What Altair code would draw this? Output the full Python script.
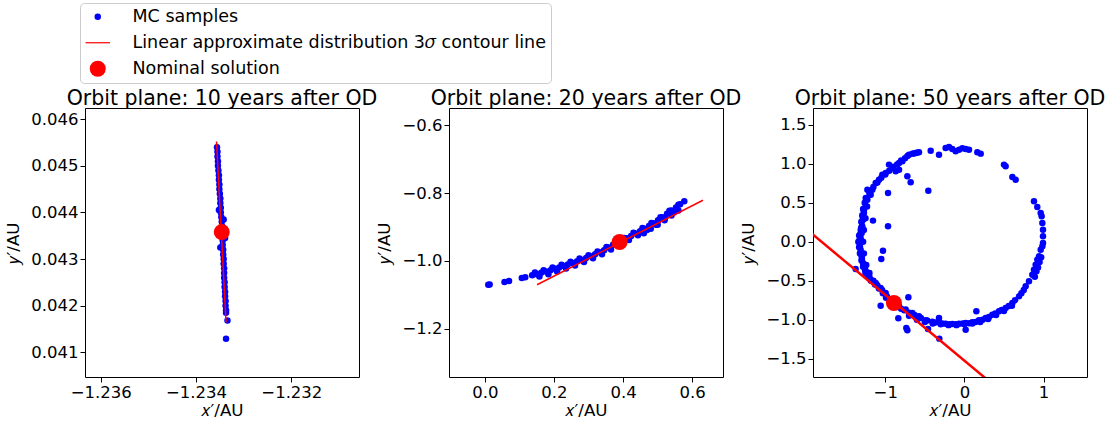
import altair as alt
import pandas as pd

FONT = "DejaVu Sans"
BLUE = "#0000ff"
RED = "#ff0000"

series_names = ["MC samples", "Linear approximate distribution 3𝜎 contour line", "Nominal solution"]
series_colors = [BLUE, RED, RED]
series_shapes = ["circle", "M-2,-0.1H2V0.1H-2Z", "circle"]
series_sizes = [42, 256, 320]

panel_titles = ["Orbit plane: 10 years after OD", "Orbit plane: 20 years after OD", "Orbit plane: 50 years after OD"]

# ---------------- Panel 1 (10 years) ----------------
p1_mc_x = [-1.23356, -1.23355, -1.23355, -1.23354, -1.23354, -1.23353, -1.23352, -1.23352, -1.23351, -1.23351,
           -1.23350, -1.23349, -1.23349, -1.23348, -1.23348, -1.23347, -1.23346, -1.23345, -1.23346, -1.23345,
           -1.23344, -1.23344, -1.23343, -1.23343, -1.23342, -1.23342, -1.23341, -1.23341, -1.23341, -1.23340,
           -1.23340, -1.23339, -1.23339, -1.23338, -1.23338, -1.23337, -1.23337, -1.23334, -1.23337,
           -1.23342, -1.23340, -1.23339, -1.23352, -1.23349]
p1_mc_y = [0.04540, 0.04530, 0.04520, 0.04510, 0.04500, 0.04490, 0.04480, 0.04470, 0.04460, 0.04450,
           0.04440, 0.04430, 0.04420, 0.04410, 0.04400, 0.04390, 0.04380, 0.04370, 0.04360, 0.04350,
           0.04340, 0.04330, 0.04320, 0.04310, 0.04300, 0.04290, 0.04280, 0.04270, 0.04260, 0.04250,
           0.04240, 0.04230, 0.04220, 0.04210, 0.04200, 0.04190, 0.04185, 0.04168, 0.04129,
           0.04385, 0.04365, 0.04345, 0.04405, 0.04325]
p1_line_x = [-1.23357, -1.23337]
p1_line_y = [0.045522, 0.041644]
p1_nom = (-1.23346, 0.043579)
p1_xdom = [-1.23633, -1.23058]
p1_ydom = [0.04047, 0.04624]
p1_xticks = [-1.236, -1.234, -1.232]
p1_yticks = [0.041, 0.042, 0.043, 0.044, 0.045, 0.046]

# ---------------- Panel 2 (20 years) ----------------
p2_mc_x = [0.010, 0.014, 0.057, 0.070, 0.107, 0.117,
           0.137, 0.150, 0.163, 0.176, 0.190, 0.203, 0.215, 0.228, 0.240, 0.254, 0.267, 0.280, 0.293, 0.306,
           0.319, 0.332, 0.345, 0.358, 0.371, 0.384, 0.397, 0.410, 0.423, 0.436, 0.449, 0.462, 0.475, 0.488,
           0.501, 0.514, 0.527, 0.540, 0.553, 0.565, 0.577,
           0.145, 0.170, 0.196, 0.222, 0.248, 0.274, 0.300, 0.326, 0.352, 0.378, 0.404, 0.430, 0.456, 0.482,
           0.508, 0.534, 0.560,
           0.158, 0.184, 0.209, 0.235, 0.261, 0.287, 0.313, 0.339, 0.365, 0.391, 0.417, 0.443, 0.469, 0.495,
           0.521, 0.547,
           0.460, 0.480, 0.500, 0.520, 0.540, 0.560]
p2_mc_y = [-1.070, -1.069, -1.062, -1.059, -1.050, -1.048,
           -1.042, -1.039, -1.035, -1.031, -1.027, -1.023, -1.019, -1.015, -1.010, -1.006, -1.001, -0.997, -0.991, -0.986,
           -0.980, -0.974, -0.968, -0.960, -0.952, -0.946, -0.940, -0.933, -0.926, -0.919, -0.912, -0.905, -0.897, -0.889,
           -0.880, -0.871, -0.861, -0.851, -0.842, -0.833, -0.824,
           -1.034, -1.027, -1.019, -1.011, -1.002, -0.993, -0.983, -0.972, -0.959, -0.945, -0.932, -0.917, -0.903, -0.888,
           -0.871, -0.852, -0.834,
           -1.046, -1.039, -1.031, -1.022, -1.013, -1.003, -0.992, -0.980, -0.966, -0.952, -0.938, -0.924, -0.909, -0.893,
           -0.875, -0.857,
           -0.918, -0.905, -0.893, -0.880, -0.866, -0.851]
p2_line_x = [0.151, 0.631]
p2_line_y = [-1.070, -0.821]
p2_nom = (0.390, -0.944)
p2_xdom = [-0.1036, 0.689]
p2_ydom = [-1.342, -0.549]
p2_xticks = [0.0, 0.2, 0.4, 0.6]
p2_yticks = [-1.2, -1.0, -0.8, -0.6]

# ---------------- Panel 3 (50 years) ----------------
p3_mc_x = [-0.700, -0.658, -0.616, -0.574, -0.784, -0.826, -0.953, -0.911, -0.868, -0.826, -0.995, -1.037, -1.079,
           -1.121, -1.163, -1.184, -1.226, -1.247,
           -1.226, -1.247, -1.269, -1.281, -1.290, -1.298, -1.311, -1.323, -1.311, -1.298, -1.281, -1.256, -1.226,
           -1.184, -1.121, -1.058, -0.995, -0.953,
           -0.826, -0.742, -0.658, -0.574, -0.489, -0.405, -0.321, -0.237, -0.153, -0.068, 0.016, 0.100, 0.184,
           0.269, 0.353, 0.437, 0.521, 0.606, 0.690, 0.774, 0.816, 0.858, 0.879, 0.900, 0.921, 0.943, 0.964, 0.985, 0.993,
           0.993, 0.993, 0.985, 0.976, 0.964, 0.921, 0.879,
           0.648, 0.606, 0.521, 0.500, 0.206, 0.163,
           0.058, 0.016, -0.026, -0.068, -0.110, -0.153, -0.195, -0.237, -0.321, -0.426,
           -0.721, -0.679, -0.456, -0.965, -1.155, -0.965, -1.029, -1.050, -0.708, -0.835, -0.734, -0.721, -0.460,
           -0.317, 0.151, 0.016, -0.321, -1.374, -1.058,
           -1.270, -1.285, -1.300, -1.310, -1.330, -1.340, -1.330, -1.320, -1.300, -1.280, -1.250, -1.200, -1.150,
           -1.100, -1.040, -0.980,
           -0.700, -0.600, -0.500, -0.400, -0.300, -0.200, -0.100, 0.000, 0.100, 0.200, 0.300, 0.400, 0.500, 0.600,
           -1.200, -1.150, -1.100, -1.050, -1.000, -0.950, -0.900, -0.850, -0.800, -0.750, -0.720, -0.640, -0.600,
           -1.260, -1.280, -1.290, -1.300, -1.305, -1.315, -1.325, -1.320, -1.310, -1.295, -1.270, -1.245,
           -1.230, -1.250, -1.270, -1.280, -1.270, -1.240, -1.200,
           -1.180, -1.130, -1.080, -1.030, -0.990, -0.930,
           -0.850, -0.800, -0.760, -0.700, -0.630, -0.550, -0.470, -0.370, -0.280, -0.190, -0.110, -0.020, 0.060,
           0.140, 0.230, 0.310, 0.390, 0.470, 0.560, 0.640, 0.720, 0.750,
           0.890, 0.910, 0.930, 0.950, 0.970]
p3_mc_y = [1.116, 1.129, 1.137, 1.146, 1.030, 1.009, 0.988, 0.945, 0.902, 0.923, 0.881, 0.859, 0.795,
           0.753, 0.667, 0.603, 0.667, 0.560,
           0.539, 0.453, 0.368, 0.282, 0.197, 0.111, 0.047, -0.017, -0.102, -0.188, -0.273, -0.359, -0.423,
           -0.487, -0.530, -0.594, -0.658, -0.743,
           -0.829, -0.871, -0.914, -0.957, -1.008, -1.025, -1.034, -1.051, -1.055, -1.051, -1.043, -1.034, -1.008,
           -0.978, -0.936, -0.893, -0.850, -0.786, -0.700, -0.572, -0.508, -0.423, -0.359, -0.295, -0.230, -0.188, -0.102, -0.060, -0.017,
           0.069, 0.154, 0.240, 0.325, 0.368, 0.445, 0.518,
           0.795, 0.830, 0.966, 0.988, 1.129, 1.146,
           1.180, 1.188, 1.197, 1.180, 1.158, 1.188, 1.214, 1.201, 1.116, 1.167,
           0.838, 0.761, 0.654, 0.624, 0.270, 0.197, -0.115, -0.222, -0.713, -0.983, -1.107, -1.136, -1.119,
           -1.243, -0.893, -1.128, -0.979, -0.350, -0.820,
           0.400, 0.320, 0.250, 0.150, 0.080, 0.000, -0.070, -0.150, -0.240, -0.320, -0.400, -0.450, -0.500,
           -0.560, -0.620, -0.700,
           -0.950, -1.000, -1.030, -1.050, -1.060, -1.070, -1.070, -1.060, -1.050, -1.030, -0.990, -0.940, -0.890, -0.820,
           0.620, 0.700, 0.760, 0.820, 0.860, 0.910, 0.960, 0.990, 1.040, 1.070, 1.100, 1.130, 1.140,
           0.500, 0.420, 0.340, 0.260, 0.180, 0.100, 0.020, -0.060, -0.140, -0.220, -0.300, -0.380,
           0.450, 0.300, 0.150, 0.000, -0.150, -0.300, -0.400,
           -0.500, -0.550, -0.600, -0.660, -0.720, -0.760,
           -0.830, -0.860, -0.880, -0.910, -0.940, -0.980, -1.010, -1.035, -1.050, -1.060, -1.060, -1.050, -1.045,
           -1.030, -1.000, -0.965, -0.920, -0.875, -0.825, -0.750, -0.660, -0.620,
           -0.450, -0.380, -0.330, -0.260, -0.200]
p3_line_x = [-2.3, 0.5]
p3_line_y = [0.417, -1.948]
p3_nom = (-0.890, -0.786)
p3_xdom = [-1.913, 1.549]
p3_ydom = [-1.735, 1.714]
p3_xticks = [-1, 0, 1]
p3_yticks = [-1.5, -1.0, -0.5, 0.0, 0.5, 1.0, 1.5]

legend = alt.Legend(
    orient="none", legendX=-5, legendY=-105, title=None,
    labelFont=FONT, labelFontSize=17.5, labelColor="black", labelLimit=0,
    labelOffset=26, symbolOffset=4, symbolStrokeWidth=0, symbolOpacity=1,
    padding=5, rowPadding=7, strokeColor="#cccccc", fillColor="white", cornerRadius=4,
)

color_scale = alt.Scale(domain=series_names, range=series_colors)
color_enc = alt.Color("series:N", scale=color_scale, legend=legend)
color_noleg = alt.Color("series:N", scale=color_scale, legend=None)
shape_enc = alt.Shape("series:N", scale=alt.Scale(domain=series_names, range=series_shapes), legend=legend)
size_enc = alt.Size("series:N", scale=alt.Scale(domain=series_names, range=series_sizes), legend=legend)


def panel(title, mc_x, mc_y, line_x, line_y, nom, xdom, ydom, xticks, yticks, xfmt, yfmt, lw):
    mc = pd.DataFrame({"x": mc_x, "y": mc_y, "series": series_names[0]})
    ln = pd.DataFrame({"x": line_x, "y": line_y, "series": series_names[1], "k": list(range(len(line_x)))})
    nm = pd.DataFrame({"x": [nom[0]], "y": [nom[1]], "series": series_names[2]})
    xs = alt.Scale(domain=xdom, nice=False, zero=False)
    ys = alt.Scale(domain=ydom, nice=False, zero=False)
    xenc = alt.X("x:Q", scale=xs, axis=alt.Axis(values=xticks, format=xfmt, title="𝑥′/AU"))
    yenc = alt.Y("y:Q", scale=ys, axis=alt.Axis(values=yticks, format=yfmt, title="𝑦′/AU"))
    l1 = alt.Chart(mc).mark_point(filled=True, opacity=1, clip=True).encode(
        x=xenc, y=yenc, color=color_enc, shape=shape_enc, size=size_enc)
    l2 = alt.Chart(ln).mark_line(strokeWidth=lw, clip=True).encode(
        x=xenc, y=yenc, order="k:Q", color=color_noleg)
    l3 = alt.Chart(nm).mark_point(filled=True, opacity=1, clip=True).encode(
        x=xenc, y=yenc, color=color_enc, shape=shape_enc, size=size_enc)
    return alt.layer(l1, l2, l3).properties(
        width=274, height=269,
        title=alt.TitleParams(title, font=FONT, fontSize=20.5, fontWeight="normal", color="black",
                              anchor="middle", offset=-17, baseline="alphabetic"))


c1 = panel(panel_titles[0], p1_mc_x, p1_mc_y, p1_line_x, p1_line_y, p1_nom, p1_xdom, p1_ydom,
           p1_xticks, p1_yticks, ".3f", ".3f", 1.5)
c2 = panel(panel_titles[1], p2_mc_x, p2_mc_y, p2_line_x, p2_line_y, p2_nom, p2_xdom, p2_ydom,
           p2_xticks, p2_yticks, ".1f", ".1f", 1.5)
c3 = panel(panel_titles[2], p3_mc_x, p3_mc_y, p3_line_x, p3_line_y, p3_nom, p3_xdom, p3_ydom,
           p3_xticks, p3_yticks, "d", ".1f", 2.5)

chart = alt.hconcat(c1, c2, c3, spacing=90, bounds="flush").properties(
    padding={"left": 5, "top": 2, "right": 5, "bottom": 2}
).configure_view(
    stroke="black", strokeWidth=1
).configure_axis(
    labelFont=FONT, labelFontSize=16.5, labelColor="black",
    titleFont=FONT, titleFontSize=16.7, titleFontWeight="normal", titleColor="black",
    tickColor="black", tickSize=5, tickWidth=1, domain=False, grid=False, labelPadding=2
).configure_axisX(titlePadding=2).configure_axisY(titlePadding=8)

chart.save("out.html", embed_options={"renderer": "svg", "actions": False})
